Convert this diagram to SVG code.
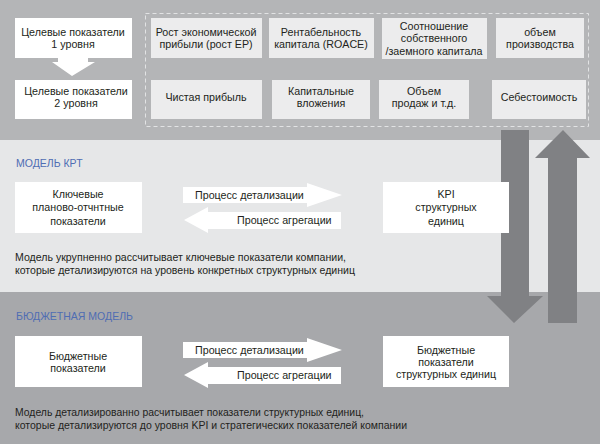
<svg xmlns="http://www.w3.org/2000/svg" width="600" height="444" viewBox="0 0 600 444">
<style>
text{font-family:"Liberation Sans",Arial,sans-serif;font-size:10.7px;fill:#231f20}
.c{text-anchor:middle}
.h{fill:#4f6db3;font-size:10.5px}
.d{font-size:11px}
.wb{fill:#ffffff}
.gb{fill:#ececed}
.big{fill:#808184}
.wa{fill:#ffffff}
</style>
<rect x="0" y="0" width="600" height="140" fill="#b4b5b7"/>
<rect x="0" y="140" width="600" height="152" fill="#e6e7e8"/>
<rect x="0" y="292" width="600" height="152" fill="#a7a8ab"/>
<rect x="145.5" y="13.5" width="443" height="113" fill="none" stroke="#e2e3e4" stroke-width="1" stroke-dasharray="4,3"/>

<g id="connectors">
<polygon class="wa" points="58,58 88,58 88,62 95,62 72,76 52,62 58,62"/>
<polygon class="big" points="501,130 529,130 529,296 543,296 514,323 487,296 501,296"/>
<polygon class="big" points="563,130 590,158 577,158 577,323 548,323 548,158 535,158"/>
<g id="arr-det-1"><polygon class="wa" points="183,187 307,187 307,183 342,195 307,207 307,203 183,203"/><text x="195" y="199">Процесс детализации</text></g>
<g id="arr-agr-1"><polygon class="wa" points="341,212 208,212 208,207 184,220 208,233 208,229 341,229"/><text x="237" y="224">Процесс агрегации</text></g>
<g id="arr-det-2"><polygon class="wa" points="183,342 307,342 307,338 342,350 307,362 307,358 183,358"/><text x="195" y="354">Процесс детализации</text></g>
<g id="arr-agr-2"><polygon class="wa" points="341,367 208,367 208,362 184,375 208,388 208,384 341,384"/><text x="237" y="379">Процесс агрегации</text></g>
</g>

<g id="n-target1"><rect class="wb" x="15" y="18" width="117" height="40"/><text class="c" x="73" y="36">Целевые показатели</text><text class="c" x="73" y="48">1 уровня</text></g>
<g id="n-target2"><rect class="wb" x="15" y="80" width="117" height="39"/><text class="c" x="76" y="95">Целевые показатели</text><text class="c" x="76" y="107">2 уровня</text></g>

<g id="n-ep"><rect class="gb" x="151" y="18" width="111" height="40"/><text class="c" x="206" y="36">Рост экономической</text><text class="c" x="206" y="48">прибыли (рост EP)</text></g>
<g id="n-roace"><rect class="gb" x="269" y="18" width="105" height="40"/><text class="c" x="321" y="36">Рентабельность</text><text class="c" x="321" y="48">капитала (ROACE)</text></g>
<g id="n-ratio"><rect class="gb" x="382" y="18" width="105" height="41"/><text class="c" x="434" y="30">Соотношение</text><text class="c" x="434" y="42">собственного</text><text class="c" x="434" y="55">/заемного капитала</text></g>
<g id="n-volume"><rect class="gb" x="496" y="18" width="88" height="40"/><text class="c" x="540" y="36">объем</text><text class="c" x="540" y="48">производства</text></g>
<g id="n-profit"><rect class="gb" x="151" y="80" width="111" height="39"/><text class="c" x="206" y="101">Чистая прибыль</text></g>
<g id="n-capex"><rect class="gb" x="272" y="80" width="98" height="39"/><text class="c" x="321" y="95">Капитальные</text><text class="c" x="321" y="107">вложения</text></g>
<g id="n-sales"><rect class="gb" x="379" y="80" width="90" height="39"/><text class="c" x="424" y="95">Объем</text><text class="c" x="424" y="107">продаж и т.д.</text></g>
<g id="n-cost"><rect class="gb" x="492" y="80" width="94" height="39"/><text class="c" x="539" y="101">Себестоимость</text></g>

<text class="h" x="16" y="167">МОДЕЛЬ КРТ</text>
<g id="n-key"><rect class="wb" x="15" y="182" width="127" height="51"/><text class="c" x="78" y="198">Ключевые</text><text class="c" x="78" y="211">планово-отчнтные</text><text class="c" x="78" y="225">показатели</text></g>
<g id="n-kpi"><rect class="wb" x="383" y="182" width="126" height="51"/><text class="c" x="446" y="198">KPI</text><text class="c" x="446" y="211">структурных</text><text class="c" x="446" y="225">единиц</text></g>
<text class="d" x="15" y="261" textLength="331" lengthAdjust="spacingAndGlyphs">Модель укрупненно рассчитывает ключевые показатели компании,</text>
<text class="d" x="15" y="274" textLength="340" lengthAdjust="spacingAndGlyphs">которые детализируются на уровень конкретных структурных единиц</text>

<text class="h" x="16" y="320">БЮДЖЕТНАЯ МОДЕЛЬ</text>
<g id="n-budget"><rect class="wb" x="15" y="336" width="127" height="51"/><text class="c" x="78" y="360">Бюджетные</text><text class="c" x="78" y="372">показатели</text></g>
<g id="n-budget-units"><rect class="wb" x="383" y="336" width="126" height="51"/><text class="c" x="446" y="354">Бюджетные</text><text class="c" x="446" y="366">показатели</text><text class="c" x="446" y="378">структурных единиц</text></g>
<text class="d" x="15" y="416" textLength="349" lengthAdjust="spacingAndGlyphs">Модель детализированно расчитывает показатели структурных единиц,</text>
<text class="d" x="15" y="429" textLength="392" lengthAdjust="spacingAndGlyphs">которые детализируются до уровня KPI и стратегических показателей компании</text>
</svg>
